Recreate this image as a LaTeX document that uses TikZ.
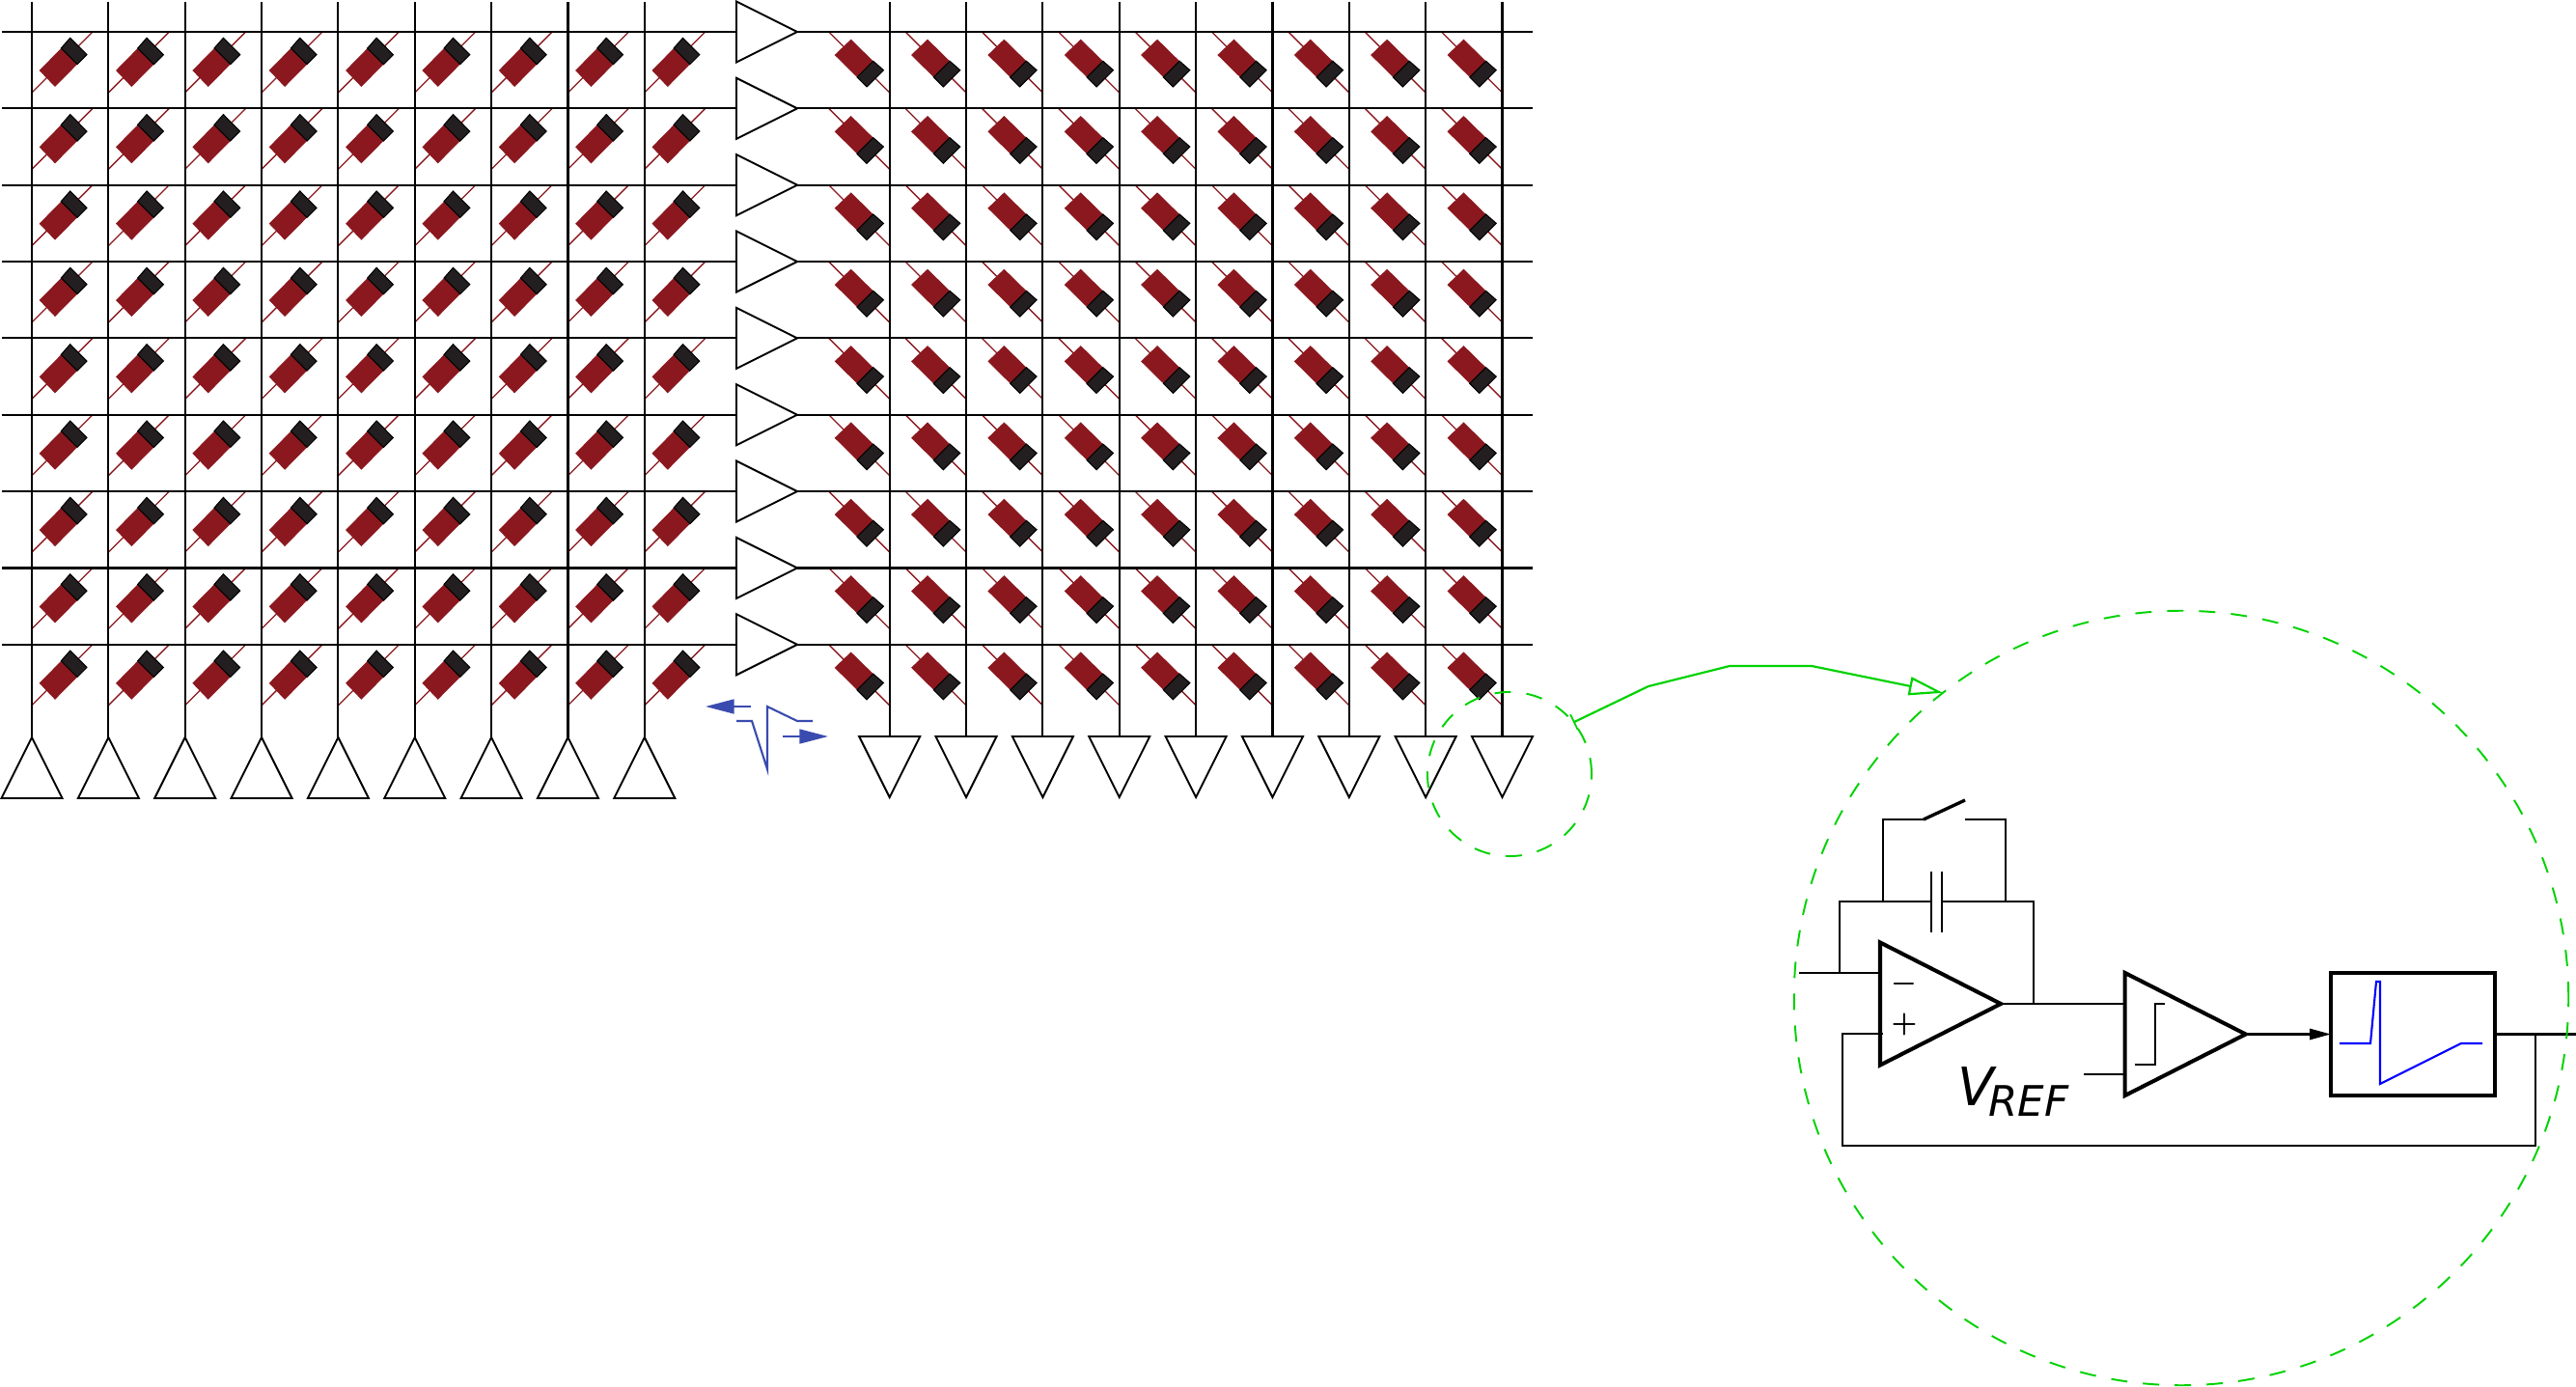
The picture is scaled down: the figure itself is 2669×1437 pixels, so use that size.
\documentclass[tikz,border=0pt]{standalone}
\usepackage{fontspec}
\setsansfont{DejaVu Sans}
\usetikzlibrary{shapes.geometric,arrows.meta}

\definecolor{diodered}{RGB}{139,24,31}
\definecolor{diodeblack}{RGB}{35,31,32}
\definecolor{pulseblue}{RGB}{58,75,175}
\definecolor{ringgreen}{RGB}{0,210,0}

\tikzset{
  wire/.style={black, line width=0.6pt},
  amp/.style={shape=isosceles triangle, isosceles triangle stretches, draw=black, fill=white,
    line width=0.55pt, inner sep=0pt, outer sep=0pt, minimum width=0.63cm, minimum height=0.63cm, anchor=lower side},
  bigamp/.style={amp, line width=1.15pt, minimum width=1.27cm, minimum height=1.25cm},
  ring/.style={shape=circle, draw=ringgreen, line width=0.55pt, inner sep=0pt, outer sep=0pt,
    dash pattern=on 4.8pt off 4.6pt},
  diode/.pic={
    \draw[diodered, line width=0.38pt] (0,63) -- (63,0);
    \fill[diodered] (7.7,40) -- (24,57) -- (47,33.7) -- (30.3,17) -- cycle;
    \filldraw[fill=diodeblack, draw=black, line width=0.3pt] (30.3,17) -- (39.7,6.3) -- (57,23.7) -- (47,33.7) -- cycle;
  }
}

\begin{document}
\begin{tikzpicture}[x=0.01cm, y=-0.01cm]
\useasboundingbox (0,0) rectangle (2669,1437);

% diodes, left and right block
\foreach \col in {0,...,8}
  \foreach \row in {0,...,8} {
    \pic at ({33+79.35*\col},{33+79.35*\row}) {diode};
    \pic[rotate=-90] at ({921.7+79.35*\col},{33+79.35*\row}) {diode};
  }

% row amplifiers
\foreach \row in {0,...,8} {
  \node[amp] (rowamp\row) at (763,{33+79.35*\row}) {};
  \coordinate (rowl\row) at (2,{33+79.35*\row});
  \coordinate (rowr\row) at (1588,{33+79.35*\row});
  \draw[wire] (rowl\row) -- (rowamp\row.lower side);
  \draw[wire] (rowamp\row.apex) -- (rowr\row);
}

% column amplifiers
\foreach \col in {0,...,8} {
  \node[amp, shape border rotate=90] (leftamp\col) at ({33+79.35*\col},827) {};
  \coordinate (lefttop\col) at ({33+79.35*\col},2);
  \draw[wire] (lefttop\col) -- (leftamp\col.apex);
  \node[amp, shape border rotate=-90] (rightamp\col) at ({921.7+79.35*\col},763) {};
  \coordinate (righttop\col) at ({921.7+79.35*\col},2);
  \draw[wire] (righttop\col) -- (rightamp\col.lower side);
}

% pulse between the blocks
\coordinate (arrowla) at (778,732);
\coordinate (arrowlb) at (731,732);
\coordinate (arrowra) at (811,763);
\coordinate (arrowrb) at (858,763);
\draw[pulseblue, line width=0.6pt] (763,747) -- (779,747) -- (795,797) -- (795,732) -- (826,747) -- (842,747);
\draw[pulseblue, line width=0.6pt, -{Triangle[length=8.4pt,width=4.2pt]}] (arrowla) -- (arrowlb);
\draw[pulseblue, line width=0.6pt, -{Triangle[length=8.4pt,width=4.2pt]}] (arrowra) -- (arrowrb);

% charge amplifier
\node[bigamp] (opamp) at (1948,1040) {};
\node[bigamp] (comp) at (2201.7,1071.5) {};
\node[draw=black, line width=1.15pt, inner sep=0pt, outer sep=0pt, minimum width=1.7cm, minimum height=1.27cm] (shaper) at (2500,1071.5) {};
\node[font=\fontsize{8.5}{9}\selectfont\boldmath] (minus) at (1973,1019) {$-$};
\node[font=\fontsize{8.5}{9}\selectfont\boldmath] (plus) at (1973,1061) {$+$};
\node[font=\sffamily\itshape\fontsize{15.6}{16}\selectfont, anchor=base west, inner sep=0pt] (vref) at (2028,1145) {V\kern-1.6pt\raisebox{-1.1mm}{\fontsize{12.4}{14}\selectfont REF}};

\coordinate (inm) at (1948,1008);
\coordinate (inp) at (1951,1071);
\coordinate (inl) at (1864,1008);
\coordinate (fbl) at (1906,1008);
\coordinate (fbtl) at (1906,934);
\coordinate (capl) at (2001,934);
\coordinate (capr) at (2012,934);
\coordinate (fbtr) at (2107,934);
\coordinate (fbr) at (2107,1039.5);
\coordinate (swbl) at (1951,934);
\coordinate (swtl) at (1951,849);
\coordinate (swa) at (1993,849);
\coordinate (swb) at (2036,829);
\coordinate (swc) at (2036,849);
\coordinate (swtr) at (2078,849);
\coordinate (swbr) at (2078,934);
\coordinate (compa) at (2201.7,1040);
\coordinate (compb) at (2201.7,1113);
\coordinate (vrefr) at (2159,1113);
\coordinate (outr) at (2669,1071.5);
\coordinate (loopa) at (2627,1071.5);
\coordinate (loopb) at (2627,1187);
\coordinate (loopc) at (1909,1187);
\coordinate (loopd) at (1909,1071);

\draw[wire] (inl) -- (inm);
\draw[wire] (fbl) -- (fbtl) -- (capl);
\draw[wire] (capr) -- (fbtr) -- (fbr);
\draw[wire] (opamp.apex) -- (compa);
\draw[wire] (vrefr) -- (compb);
\draw[wire] (swbl) -- (swtl) -- (swa);
\draw[line width=0.95pt] (swa) -- (swb);
\draw[wire] (swc) -- (swtr) -- (swbr);
\draw[line width=0.65pt] (2001,903) -- (2001,966);
\draw[line width=0.65pt] (2012,903) -- (2012,966);
\draw[wire, -{Triangle[length=6.2pt,width=3.2pt]}] (comp.apex) -- (shaper.west);
\draw[wire] (shaper.east) -- (outr);
\draw[wire] (loopa) -- (loopb) -- (loopc) -- (loopd) -- (inp);

% threshold step and output pulse
\draw[line width=0.6pt] (2212,1103) -- (2233,1103) -- (2233,1040) -- (2243,1040);
\draw[blue, line width=0.6pt] (2424,1081) -- (2456,1081) -- (2462,1017) -- (2466,1017) -- (2466,1123) -- (2550,1081) -- (2572,1081);

% zoom rings
\node[ring, minimum size=1.7cm] (ringa) at (1564,802) {};
\node[ring, minimum size=8.02cm] (ringb) at (2260,1034) {};
\coordinate (linka) at (1708,711);
\coordinate (linkb) at (1792,690);
\coordinate (linkc) at (1877,690);
\draw[ringgreen, line width=0.62pt, {Bar[width=5pt,line width=0.5pt]}-{Triangle[open,fill=white,length=10pt,width=5.4pt]}] (ringa.39) -- (linka) -- (linkb) -- (linkc) -- (ringb.128.5);

\end{tikzpicture}
\end{document}
